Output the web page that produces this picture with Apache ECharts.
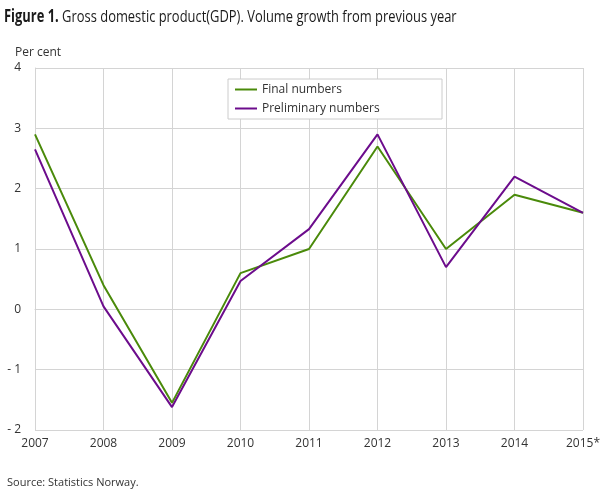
<!DOCTYPE html>
<html><head><meta charset="utf-8">
<script src="https://cdn.jsdelivr.net/npm/echarts@6/dist/echarts.min.js"></script>
<style>html,body{margin:0;padding:0;background:#fff}#c{width:609px;height:489px}</style>
</head><body><div id="c"></div>
<script>
var years = ['2007','2008','2009','2010','2011','2012','2013','2014','2015*'];
var finalNumbers = [2.9, 0.4, -1.55, 0.6, 1.0, 2.7, 1.0, 1.9, 1.6];
var preliminaryNumbers = [2.65, 0.05, -1.62, 0.47, 1.33, 2.9, 0.7, 2.2, 1.6];
var yTicks = {min: -2, max: 4, interval: 1};

var chart = echarts.init(document.getElementById('c'), null, {renderer: 'canvas'});
var font = 'Open Sans';
chart.setOption({
  animation: false,
  textStyle: {fontFamily: font},
  graphic: [{
    type: 'text', x: 4, y: 17, scaleX: 0.76, scaleY: 1, originX: 0, originY: 0,
    style: {
      text: '{b|Figure 1.} Gross domestic product(GDP). Volume growth from previous year',
      fontSize: 17, fontFamily: font, fill: '#1a1a1a', verticalAlign: 'middle', align: 'left',
      rich: {b: {fontSize: 17, fontWeight: 'bold', fontFamily: font, fill: '#1a1a1a'}}
    }
  }],
  title: [{
    text: 'Per cent', left: 10, top: 42,
    textStyle: {fontSize: 12, fontWeight: 'normal', color: '#333', fontFamily: font}
  }, {
    text: 'Source: Statistics Norway.', left: 2, top: 472,
    textStyle: {fontSize: 11, fontWeight: 'normal', color: '#333', fontFamily: font}
  }],
  legend: {
    orient: 'vertical', left: 228, top: 79,
    padding: [3, 6, 3, 7], itemGap: 4,
    backgroundColor: '#fff', borderColor: '#ccc', borderWidth: 1,
    itemWidth: 22, itemHeight: 2, icon: 'rect',
    textStyle: {fontSize: 12, color: '#333', fontFamily: font, width: 174, lineHeight: 15},
    data: ['Final numbers', 'Preliminary numbers']
  },
  grid: {left: 35, right: 26, top: 68, bottom: 59, containLabel: false},
  xAxis: {
    type: 'category', data: years, boundaryGap: false,
    axisLine: {lineStyle: {color: '#d4d4d4'}},
    axisTick: {show: false},
    splitLine: {show: true, lineStyle: {color: '#d4d4d4'}},
    axisLabel: {color: '#333', fontSize: 12, margin: 8, fontFamily: font}
  },
  yAxis: {
    type: 'value', min: yTicks.min, max: yTicks.max, interval: yTicks.interval,
    axisLine: {show: true, lineStyle: {color: '#d4d4d4'}},
    axisTick: {show: false},
    splitLine: {lineStyle: {color: '#d4d4d4'}},
    axisLabel: {color: '#333', fontSize: 12, margin: 14, fontFamily: font,
      formatter: function (v) { return v < 0 ? '- ' + Math.abs(v) : String(v); }}
  },
  series: [{
    name: 'Final numbers', type: 'line', data: finalNumbers,
    symbol: 'none', lineStyle: {color: '#4a8a0a', width: 2}, itemStyle: {color: '#4a8a0a'}
  }, {
    name: 'Preliminary numbers', type: 'line', data: preliminaryNumbers,
    symbol: 'none', lineStyle: {color: '#6c0c8c', width: 2}, itemStyle: {color: '#6c0c8c'}
  }]
});
</script></body></html>
